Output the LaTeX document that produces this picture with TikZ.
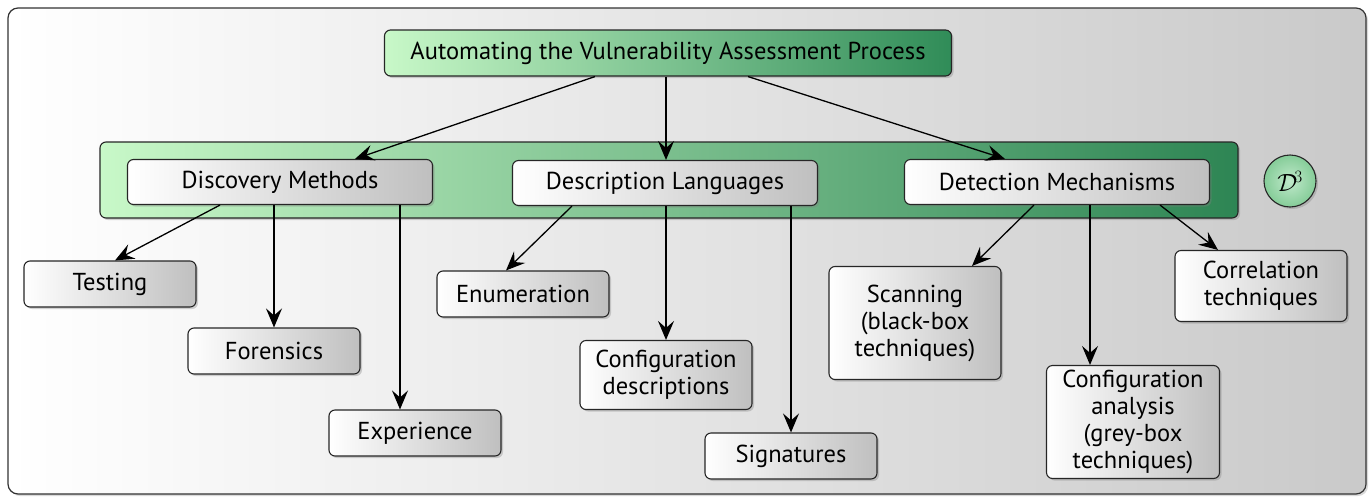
\documentclass[tikz,border=0pt]{standalone}
\usepackage{fontspec}
\setmainfont{PT Sans}
\usepackage{tikz}
\usetikzlibrary{arrows.meta,shadows}

\definecolor{palegreen}{RGB}{200,248,200}
\definecolor{seagreen}{RGB}{48,140,88}
\definecolor{discgreen}{RGB}{140,215,160}

\tikzset{
  box/.style={draw=black!85, line width=1.1pt, rounded corners=6pt, inner sep=0pt,
    align=center, left color=white, right color=gray!50,
    drop shadow={opacity=0.35, shadow xshift=2pt, shadow yshift=-2pt},
    font=\fontsize{24.5}{27}\selectfont},
  greenbox/.style={box, left color=palegreen, right color=seagreen},
  link/.style={-{Stealth[length=19pt,width=16pt,inset=7pt]}, line width=1.3pt}
}

\begin{document}
\begin{tikzpicture}[x=1pt, y=-1pt]
  \useasboundingbox (0,0) rectangle (1372,498);
  % frame and band
  \path[draw=black!80, line width=1.2pt, rounded corners=10pt,
        left color=white, right color=gray!42,
        drop shadow={opacity=0.3, shadow xshift=2pt, shadow yshift=-2pt}]
    (8,8) rectangle (1366,494);
  \path[draw=black!85, line width=1.1pt, rounded corners=6pt,
        left color=palegreen, right color=seagreen!95!black,
        drop shadow={opacity=0.35, shadow xshift=2pt, shadow yshift=-2pt}]
    (100,142) rectangle (1238,218);

  \node[greenbox, minimum width=567pt, minimum height=46pt] (vap) at (668,53)
    {Automating the Vulnerability Assessment Process};

  \node[box, minimum width=305pt, minimum height=45pt] (dm) at (280,182) {Discovery Methods};
  \node[box, minimum width=305pt, minimum height=45pt] (dl) at (665,183) {Description Languages};
  \node[box, minimum width=305pt, minimum height=45pt] (dt) at (1057,182) {Detection Mechanisms};

  \node[draw=black!85, line width=1.1pt, circle, minimum size=52pt, inner sep=0pt,
        inner color=discgreen!55, outer color=discgreen!95!black,
        drop shadow={opacity=0.35, shadow xshift=2pt, shadow yshift=-2pt},
        font=\fontsize{24}{26}\selectfont] (d3) at (1290,181) {$\mathcal{D}^{\!3}$};

  \node[box, minimum width=172pt, minimum height=46pt] (tst) at (110,284) {Testing};
  \node[box, minimum width=172pt, minimum height=46pt] (for) at (274,351) {Forensics};
  \node[box, minimum width=172pt, minimum height=46pt] (exp) at (415,433) {Experience};

  \node[box, minimum width=172pt, minimum height=46pt] (enu) at (523,294) {Enumeration};
  \node[box, minimum width=172pt, minimum height=69pt] (cfd) at (666,375) {Configuration\\descriptions};
  \node[box, minimum width=172pt, minimum height=46pt] (sig) at (791,456) {Signatures};

  \node[box, minimum width=172pt, minimum height=113pt] (scn) at (915,323) {Scanning\\(black-box\\techniques)};
  \node[box, minimum width=173pt, minimum height=113pt] (cfa) at (1133,422) {Configuration\\analysis\\(grey-box\\techniques)};
  \node[box, minimum width=172pt, minimum height=71pt] (cor) at (1261,286) {Correlation\\techniques};

  \path[link]
    ([xshift=-73pt]vap.south) edge ([xshift=75pt]dm.north)
    ([xshift=-2pt]vap.south) edge ([xshift=1pt]dl.north)
    ([xshift=80pt]vap.south) edge ([xshift=-52pt]dt.north)
    ([xshift=-60pt]dm.south) edge ([xshift=5pt]tst.north)
    ([xshift=-6pt]dm.south) edge (for.north)
    ([xshift=120pt]dm.south) edge ([xshift=-15pt]exp.north)
    ([xshift=-93pt]dl.south) edge ([xshift=-17pt]enu.north)
    ([xshift=1pt]dl.south) edge (cfd.north)
    ([xshift=126pt]dl.south) edge (sig.north)
    ([xshift=-23pt]dt.south) edge ([xshift=57pt]scn.north)
    ([xshift=33pt]dt.south) edge ([xshift=-43pt]cfa.north)
    ([xshift=103pt]dt.south) edge ([xshift=-43pt]cor.north);
\end{tikzpicture}
\end{document}
